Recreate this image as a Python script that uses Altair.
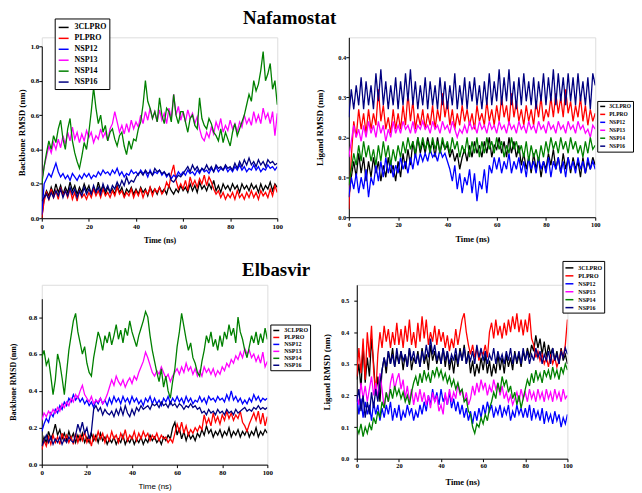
import altair as alt
import pandas as pd

SERIES = ["3CLPRO", "PLPRO", "NSP12", "NSP13", "NSP14", "NSP16"]
COLORS = ["#000000", "#ff0000", "#0000ff", "#ff00ff", "#008000", "#000080"]
TIME = list(range(0, 101))
XTICKS = [0, 20, 40, 60, 80, 100]

# ---------------- Nafamostat : backbone RMSD ----------------
a_3cl = [0.00, 0.12, 0.16, 0.13, 0.18, 0.14, 0.20, 0.15, 0.19, 0.14,
         0.18, 0.15, 0.21, 0.16, 0.19, 0.14, 0.18, 0.15, 0.20, 0.16,
         0.19, 0.14, 0.18, 0.15, 0.21, 0.16, 0.19, 0.14, 0.18, 0.15,
         0.17, 0.14, 0.19, 0.15, 0.18, 0.13, 0.17, 0.15, 0.18, 0.14,
         0.17, 0.14, 0.18, 0.15, 0.17, 0.13, 0.18, 0.15, 0.17, 0.14,
         0.18, 0.15, 0.17, 0.14, 0.19, 0.16, 0.14, 0.17, 0.15, 0.19,
         0.16, 0.18, 0.15, 0.20, 0.16, 0.19, 0.15, 0.21, 0.17, 0.19,
         0.16, 0.20, 0.17, 0.22, 0.16, 0.19, 0.15, 0.20, 0.17, 0.19,
         0.16, 0.20, 0.17, 0.19, 0.15, 0.20, 0.17, 0.19, 0.16, 0.20,
         0.17, 0.19, 0.15, 0.20, 0.16, 0.19, 0.17, 0.21, 0.16, 0.20, 0.18]
a_pl = [0.00, 0.10, 0.15, 0.11, 0.17, 0.12, 0.16, 0.11, 0.18, 0.13,
        0.16, 0.12, 0.17, 0.11, 0.15, 0.10, 0.16, 0.12, 0.14, 0.11,
        0.15, 0.12, 0.17, 0.13, 0.16, 0.12, 0.17, 0.13, 0.15, 0.12,
        0.16, 0.13, 0.18, 0.14, 0.16, 0.12, 0.15, 0.13, 0.17, 0.12,
        0.16, 0.13, 0.17, 0.12, 0.16, 0.14, 0.18, 0.13, 0.17, 0.15,
        0.18, 0.14, 0.16, 0.21, 0.18, 0.26, 0.31, 0.22, 0.17, 0.20,
        0.17, 0.22, 0.16, 0.24, 0.19, 0.22, 0.18, 0.23, 0.20, 0.25,
        0.19, 0.24, 0.21, 0.17, 0.14, 0.16, 0.12, 0.15, 0.11, 0.14,
        0.12, 0.15, 0.11, 0.16, 0.12, 0.14, 0.11, 0.15, 0.12, 0.16,
        0.12, 0.15, 0.11, 0.16, 0.13, 0.15, 0.12, 0.17, 0.13, 0.19, 0.15]
a_n12 = [0.02, 0.20, 0.23, 0.26, 0.24, 0.28, 0.32, 0.27, 0.24, 0.26,
         0.23, 0.25, 0.22, 0.26, 0.24, 0.22, 0.25, 0.23, 0.26, 0.24,
         0.26, 0.23, 0.25, 0.24, 0.27, 0.25, 0.28, 0.26, 0.27, 0.25,
         0.28, 0.26, 0.29, 0.25, 0.27, 0.24, 0.26, 0.25, 0.28, 0.26,
         0.27, 0.25, 0.28, 0.26, 0.27, 0.24, 0.28, 0.25, 0.27, 0.26,
         0.28, 0.25, 0.27, 0.24, 0.26, 0.23, 0.25, 0.24, 0.27, 0.25,
         0.27, 0.25, 0.28, 0.26, 0.27, 0.25, 0.28, 0.26, 0.29, 0.27,
         0.28, 0.26, 0.29, 0.27, 0.30, 0.27, 0.29, 0.28, 0.30, 0.27,
         0.29, 0.27, 0.30, 0.28, 0.31, 0.28, 0.30, 0.27, 0.29, 0.28,
         0.31, 0.28, 0.30, 0.27, 0.29, 0.28, 0.31, 0.29, 0.30, 0.28, 0.30]
a_n13 = [0.22, 0.30, 0.36, 0.42, 0.38, 0.44, 0.40, 0.46, 0.41, 0.48,
         0.43, 0.50, 0.45, 0.53, 0.46, 0.50, 0.44, 0.49, 0.45, 0.51,
         0.47, 0.50, 0.44, 0.48, 0.46, 0.52, 0.47, 0.50, 0.45, 0.52,
         0.55, 0.62, 0.56, 0.50, 0.54, 0.49, 0.55, 0.50, 0.57, 0.52,
         0.56, 0.53, 0.60, 0.55, 0.62, 0.57, 0.64, 0.58, 0.62, 0.56,
         0.63, 0.57, 0.61, 0.55, 0.64, 0.58, 0.72, 0.60, 0.65, 0.57,
         0.62, 0.56, 0.63, 0.58, 0.61, 0.55, 0.59, 0.52, 0.47, 0.45,
         0.50, 0.47, 0.53, 0.49, 0.56, 0.52, 0.58, 0.50, 0.54, 0.51,
         0.57, 0.52, 0.55, 0.50, 0.56, 0.53, 0.60, 0.55, 0.58, 0.54,
         0.62, 0.56, 0.60, 0.55, 0.64, 0.58, 0.61, 0.55, 0.62, 0.48, 0.61]
a_n14 = [0.20, 0.30, 0.38, 0.45, 0.40, 0.48, 0.44, 0.52, 0.57, 0.46,
         0.40, 0.52, 0.58, 0.45, 0.38, 0.33, 0.29, 0.36, 0.44, 0.40,
         0.50, 0.62, 0.76, 0.64, 0.55, 0.60, 0.50, 0.54, 0.45, 0.50,
         0.52, 0.46, 0.42, 0.48, 0.50, 0.42, 0.37, 0.45, 0.40, 0.46,
         0.45, 0.52, 0.56, 0.66, 0.80, 0.68, 0.64, 0.58, 0.62, 0.56,
         0.70, 0.60, 0.55, 0.64, 0.62, 0.56, 0.72, 0.60, 0.55, 0.62,
         0.62, 0.56, 0.50, 0.58, 0.60, 0.54, 0.52, 0.70, 0.58, 0.54,
         0.52, 0.58, 0.55, 0.50, 0.48, 0.45, 0.52, 0.44, 0.50, 0.46,
         0.42, 0.50, 0.55, 0.48, 0.52, 0.56, 0.60, 0.66, 0.72, 0.68,
         0.80, 0.74, 0.78, 0.86, 0.97, 0.80, 0.84, 0.90, 0.75, 0.80, 0.66]
a_n16 = [0.10, 0.12, 0.14, 0.11, 0.15, 0.12, 0.16, 0.13, 0.17, 0.12,
         0.16, 0.13, 0.18, 0.14, 0.17, 0.12, 0.16, 0.13, 0.18, 0.14,
         0.17, 0.14, 0.19, 0.15, 0.18, 0.14, 0.20, 0.16, 0.19, 0.15,
         0.19, 0.17, 0.21, 0.18, 0.22, 0.19, 0.24, 0.20, 0.22, 0.21,
         0.24, 0.26, 0.27, 0.25, 0.28, 0.26, 0.27, 0.25, 0.29, 0.27,
         0.28, 0.26, 0.27, 0.25, 0.26, 0.22, 0.21, 0.23, 0.25, 0.24,
         0.26, 0.28, 0.30, 0.27, 0.31, 0.28, 0.30, 0.27, 0.29, 0.28,
         0.31, 0.28, 0.30, 0.27, 0.31, 0.29, 0.30, 0.28, 0.31, 0.29,
         0.30, 0.28, 0.32, 0.29, 0.33, 0.30, 0.34, 0.31, 0.35, 0.31,
         0.33, 0.30, 0.34, 0.31, 0.33, 0.30, 0.34, 0.32, 0.33, 0.31, 0.32]

# ---------------- Nafamostat : ligand RMSD ----------------
b_3cl = [0.05, 0.10, 0.14, 0.10, 0.16, 0.11, 0.15, 0.09, 0.14, 0.10,
         0.15, 0.11, 0.14, 0.09, 0.13, 0.10, 0.15, 0.11, 0.13, 0.09,
         0.14, 0.10, 0.16, 0.12, 0.17, 0.13, 0.19, 0.15, 0.20, 0.16,
         0.19, 0.16, 0.20, 0.17, 0.19, 0.15, 0.20, 0.16, 0.19, 0.17,
         0.18, 0.15, 0.17, 0.14, 0.16, 0.12, 0.15, 0.17, 0.14, 0.18,
         0.15, 0.19, 0.16, 0.18, 0.15, 0.19, 0.16, 0.20, 0.15, 0.18,
         0.17, 0.20, 0.16, 0.19, 0.15, 0.20, 0.16, 0.19, 0.15, 0.18,
         0.13, 0.16, 0.12, 0.15, 0.11, 0.16, 0.12, 0.15, 0.10, 0.14,
         0.12, 0.16, 0.13, 0.17, 0.12, 0.15, 0.11, 0.16, 0.12, 0.15,
         0.11, 0.15, 0.12, 0.14, 0.10, 0.15, 0.11, 0.14, 0.12, 0.15, 0.13]
b_pl = [0.02, 0.15, 0.24, 0.20, 0.27, 0.22, 0.26, 0.21, 0.27, 0.22,
        0.26, 0.23, 0.32, 0.24, 0.28, 0.22, 0.25, 0.21, 0.27, 0.22,
        0.26, 0.22, 0.28, 0.23, 0.31, 0.24, 0.29, 0.22, 0.26, 0.23,
        0.27, 0.22, 0.26, 0.23, 0.28, 0.22, 0.27, 0.24, 0.31, 0.25,
        0.29, 0.23, 0.27, 0.22, 0.26, 0.23, 0.28, 0.24, 0.27, 0.23,
        0.26, 0.22, 0.28, 0.24, 0.26, 0.23, 0.29, 0.24, 0.27, 0.23,
        0.28, 0.24, 0.30, 0.25, 0.28, 0.23, 0.31, 0.25, 0.29, 0.24,
        0.27, 0.23, 0.28, 0.24, 0.27, 0.23, 0.29, 0.25, 0.30, 0.24,
        0.27, 0.25, 0.30, 0.25, 0.31, 0.26, 0.30, 0.25, 0.32, 0.26,
        0.29, 0.24, 0.28, 0.25, 0.30, 0.24, 0.28, 0.23, 0.27, 0.24, 0.26]
b_n12 = [0.05, 0.10, 0.07, 0.11, 0.06, 0.10, 0.07, 0.12, 0.05, 0.10,
         0.08, 0.13, 0.09, 0.14, 0.10, 0.15, 0.11, 0.14, 0.10, 0.13,
         0.11, 0.15, 0.12, 0.14, 0.11, 0.15, 0.12, 0.16, 0.13, 0.16,
         0.14, 0.16, 0.14, 0.17, 0.15, 0.16, 0.14, 0.17, 0.15, 0.16,
         0.14, 0.12, 0.09, 0.13, 0.07, 0.11, 0.06, 0.10, 0.08, 0.12,
         0.06, 0.11, 0.04, 0.09, 0.07, 0.12, 0.06, 0.13, 0.11, 0.15,
         0.12, 0.15, 0.11, 0.14, 0.12, 0.16, 0.11, 0.14, 0.12, 0.15,
         0.11, 0.14, 0.10, 0.15, 0.12, 0.14, 0.11, 0.15, 0.12, 0.14,
         0.11, 0.15, 0.10, 0.14, 0.12, 0.15, 0.11, 0.14, 0.10, 0.15,
         0.12, 0.14, 0.11, 0.15, 0.12, 0.14, 0.11, 0.15, 0.12, 0.14, 0.12]
b_n13 = [0.15, 0.19, 0.23, 0.20, 0.22, 0.19, 0.23, 0.20, 0.24, 0.21,
         0.23, 0.20, 0.24, 0.21, 0.23, 0.19, 0.22, 0.20, 0.24, 0.21,
         0.23, 0.21, 0.24, 0.22, 0.23, 0.21, 0.24, 0.21, 0.23, 0.22,
         0.24, 0.22, 0.23, 0.21, 0.24, 0.22, 0.23, 0.21, 0.24, 0.22,
         0.23, 0.21, 0.24, 0.22, 0.20, 0.22, 0.21, 0.23, 0.21, 0.24,
         0.22, 0.23, 0.21, 0.24, 0.22, 0.23, 0.21, 0.24, 0.22, 0.23,
         0.21, 0.24, 0.22, 0.23, 0.21, 0.24, 0.22, 0.23, 0.21, 0.24,
         0.22, 0.23, 0.21, 0.24, 0.22, 0.23, 0.21, 0.24, 0.22, 0.23,
         0.21, 0.24, 0.22, 0.23, 0.21, 0.24, 0.22, 0.23, 0.21, 0.24,
         0.22, 0.23, 0.21, 0.24, 0.22, 0.23, 0.21, 0.22, 0.20, 0.23, 0.22]
b_n14 = [0.08, 0.12, 0.16, 0.13, 0.18, 0.14, 0.19, 0.15, 0.18, 0.14,
         0.17, 0.13, 0.18, 0.14, 0.19, 0.15, 0.18, 0.13, 0.17, 0.14,
         0.18, 0.15, 0.19, 0.16, 0.20, 0.17, 0.19, 0.16, 0.20, 0.17,
         0.20, 0.17, 0.19, 0.16, 0.20, 0.17, 0.19, 0.16, 0.20, 0.17,
         0.19, 0.16, 0.20, 0.17, 0.19, 0.15, 0.18, 0.16, 0.20, 0.15,
         0.19, 0.16, 0.20, 0.15, 0.19, 0.16, 0.20, 0.17, 0.19, 0.16,
         0.20, 0.17, 0.19, 0.15, 0.18, 0.16, 0.20, 0.17, 0.19, 0.16,
         0.18, 0.15, 0.19, 0.14, 0.18, 0.15, 0.17, 0.14, 0.18, 0.15,
         0.19, 0.16, 0.20, 0.17, 0.19, 0.16, 0.20, 0.17, 0.19, 0.16,
         0.20, 0.17, 0.19, 0.16, 0.18, 0.15, 0.19, 0.16, 0.20, 0.17, 0.18]
b_n16 = [0.25, 0.32, 0.27, 0.33, 0.28, 0.35, 0.27, 0.34, 0.28, 0.33,
         0.27, 0.36, 0.29, 0.37, 0.28, 0.34, 0.27, 0.33, 0.28, 0.35,
         0.27, 0.34, 0.28, 0.36, 0.29, 0.37, 0.28, 0.34, 0.27, 0.33,
         0.28, 0.35, 0.27, 0.34, 0.28, 0.33, 0.27, 0.35, 0.28, 0.34,
         0.27, 0.33, 0.28, 0.36, 0.27, 0.33, 0.28, 0.35, 0.27, 0.34,
         0.29, 0.35, 0.28, 0.33, 0.27, 0.34, 0.28, 0.36, 0.28, 0.34,
         0.29, 0.37, 0.28, 0.35, 0.29, 0.37, 0.28, 0.34, 0.27, 0.35,
         0.28, 0.36, 0.29, 0.34, 0.28, 0.35, 0.27, 0.34, 0.29, 0.36,
         0.28, 0.35, 0.29, 0.37, 0.28, 0.36, 0.29, 0.35, 0.28, 0.36,
         0.29, 0.35, 0.28, 0.36, 0.29, 0.34, 0.28, 0.35, 0.27, 0.36, 0.33]

# ---------------- Elbasvir : backbone RMSD ----------------
c_3cl = [0.10, 0.15, 0.12, 0.18, 0.14, 0.17, 0.22, 0.16, 0.19, 0.14,
         0.17, 0.13, 0.18, 0.14, 0.17, 0.12, 0.16, 0.13, 0.17, 0.12,
         0.15, 0.12, 0.17, 0.13, 0.16, 0.12, 0.17, 0.13, 0.15, 0.11,
         0.14, 0.12, 0.15, 0.11, 0.14, 0.12, 0.16, 0.11, 0.14, 0.12,
         0.15, 0.11, 0.14, 0.12, 0.15, 0.11, 0.14, 0.12, 0.16, 0.13,
         0.15, 0.12, 0.14, 0.11, 0.15, 0.13, 0.16, 0.14, 0.20, 0.23,
         0.16, 0.20, 0.14, 0.18, 0.13, 0.17, 0.14, 0.16, 0.13, 0.17,
         0.15, 0.19, 0.16, 0.21, 0.17, 0.19, 0.15, 0.18, 0.16, 0.19,
         0.15, 0.18, 0.16, 0.20, 0.15, 0.18, 0.16, 0.19, 0.15, 0.18,
         0.16, 0.19, 0.15, 0.18, 0.16, 0.20, 0.15, 0.18, 0.16, 0.19, 0.17]
c_pl = [0.08, 0.13, 0.10, 0.15, 0.11, 0.16, 0.12, 0.15, 0.11, 0.17,
        0.13, 0.16, 0.12, 0.15, 0.11, 0.17, 0.12, 0.16, 0.13, 0.18,
        0.12, 0.15, 0.10, 0.16, 0.13, 0.18, 0.14, 0.17, 0.12, 0.16,
        0.13, 0.18, 0.14, 0.16, 0.12, 0.17, 0.14, 0.19, 0.13, 0.16,
        0.14, 0.18, 0.13, 0.17, 0.14, 0.18, 0.15, 0.17, 0.13, 0.16,
        0.14, 0.17, 0.13, 0.16, 0.14, 0.15, 0.12, 0.14, 0.12, 0.17,
        0.22, 0.18, 0.23, 0.17, 0.21, 0.16, 0.19, 0.17, 0.20, 0.18,
        0.21, 0.19, 0.27, 0.22, 0.25, 0.21, 0.28, 0.23, 0.26, 0.22,
        0.27, 0.24, 0.29, 0.25, 0.28, 0.24, 0.27, 0.25, 0.29, 0.23,
        0.21, 0.18, 0.22, 0.25, 0.28, 0.24, 0.29, 0.22, 0.28, 0.21, 0.26]
c_n12 = [0.18, 0.22, 0.25, 0.23, 0.28, 0.26, 0.30, 0.28, 0.32, 0.30,
         0.34, 0.32, 0.36, 0.34, 0.38, 0.35, 0.37, 0.34, 0.36, 0.33,
         0.35, 0.32, 0.34, 0.31, 0.35, 0.33, 0.36, 0.33, 0.35, 0.32,
         0.36, 0.33, 0.37, 0.34, 0.36, 0.33, 0.37, 0.34, 0.36, 0.33,
         0.37, 0.34, 0.36, 0.33, 0.35, 0.32, 0.36, 0.34, 0.37, 0.33,
         0.36, 0.33, 0.35, 0.32, 0.36, 0.34, 0.37, 0.33, 0.36, 0.34,
         0.37, 0.34, 0.36, 0.33, 0.37, 0.34, 0.36, 0.33, 0.35, 0.34,
         0.37, 0.34, 0.36, 0.33, 0.37, 0.35, 0.36, 0.34, 0.37, 0.35,
         0.36, 0.34, 0.38, 0.35, 0.40, 0.35, 0.37, 0.34, 0.36, 0.33,
         0.35, 0.33, 0.36, 0.34, 0.38, 0.35, 0.37, 0.34, 0.36, 0.35, 0.36]
c_n13 = [0.24, 0.28, 0.26, 0.29, 0.27, 0.30, 0.28, 0.31, 0.29, 0.33,
         0.31, 0.34, 0.32, 0.36, 0.34, 0.38, 0.36, 0.40, 0.43, 0.38,
         0.36, 0.34, 0.37, 0.33, 0.35, 0.34, 0.36, 0.33, 0.35, 0.38,
         0.42, 0.46, 0.43, 0.48, 0.45, 0.43, 0.46, 0.42, 0.45, 0.47,
         0.44, 0.48, 0.46, 0.50, 0.53, 0.56, 0.61, 0.58, 0.54, 0.50,
         0.48, 0.51, 0.49, 0.53, 0.50, 0.47, 0.49, 0.45, 0.48, 0.50,
         0.52, 0.49, 0.53, 0.50, 0.55, 0.51, 0.53, 0.49, 0.52, 0.48,
         0.51, 0.48, 0.53, 0.50, 0.52, 0.49, 0.52, 0.48, 0.51, 0.49,
         0.53, 0.51, 0.55, 0.53, 0.57, 0.55, 0.59, 0.57, 0.61, 0.58,
         0.63, 0.60, 0.62, 0.58, 0.60, 0.56, 0.59, 0.55, 0.61, 0.53, 0.56]
c_n14 = [0.58, 0.62, 0.54, 0.57, 0.48, 0.38, 0.46, 0.60, 0.55, 0.47,
         0.38, 0.50, 0.62, 0.70, 0.78, 0.82, 0.72, 0.66, 0.60, 0.64,
         0.55, 0.50, 0.48, 0.58, 0.65, 0.72, 0.68, 0.62, 0.70, 0.66,
         0.72, 0.65, 0.70, 0.76, 0.68, 0.73, 0.66, 0.74, 0.70, 0.78,
         0.72, 0.68, 0.64, 0.70, 0.74, 0.78, 0.83, 0.80, 0.70, 0.62,
         0.56, 0.50, 0.45, 0.52, 0.42, 0.48, 0.40, 0.36, 0.45, 0.52,
         0.64, 0.72, 0.82, 0.75, 0.68, 0.62, 0.66, 0.58, 0.55, 0.50,
         0.48, 0.56, 0.62, 0.70, 0.66, 0.72, 0.64, 0.68, 0.62, 0.70,
         0.64, 0.72, 0.68, 0.76, 0.70, 0.74, 0.66, 0.80, 0.72, 0.68,
         0.62, 0.58, 0.64, 0.70, 0.66, 0.72, 0.65, 0.71, 0.66, 0.74, 0.68]
c_n16 = [0.10, 0.13, 0.16, 0.12, 0.15, 0.11, 0.14, 0.12, 0.15, 0.11,
         0.14, 0.12, 0.15, 0.13, 0.12, 0.16, 0.22, 0.18, 0.23, 0.17,
         0.20, 0.14, 0.18, 0.30, 0.32, 0.29, 0.31, 0.27, 0.30, 0.28,
         0.27, 0.29, 0.26, 0.30, 0.27, 0.31, 0.27, 0.32, 0.28, 0.26,
         0.30, 0.27, 0.31, 0.29, 0.32, 0.30, 0.31, 0.32, 0.30, 0.33,
         0.32, 0.33, 0.31, 0.34, 0.32, 0.33, 0.31, 0.34, 0.32, 0.33,
         0.31, 0.33, 0.32, 0.30, 0.32, 0.31, 0.33, 0.31, 0.32, 0.30,
         0.31, 0.28, 0.29, 0.27, 0.30, 0.28, 0.29, 0.27, 0.30, 0.28,
         0.29, 0.27, 0.30, 0.28, 0.29, 0.27, 0.30, 0.28, 0.29, 0.30,
         0.31, 0.29, 0.30, 0.29, 0.31, 0.30, 0.32, 0.30, 0.31, 0.30, 0.31]

# ---------------- Elbasvir : ligand RMSD ----------------
d_3cl = [0.25, 0.30, 0.22, 0.36, 0.24, 0.32, 0.26, 0.38, 0.30, 0.20,
         0.26, 0.18, 0.28, 0.32, 0.27, 0.34, 0.30, 0.35, 0.29, 0.33,
         0.30, 0.34, 0.28, 0.33, 0.29, 0.35, 0.28, 0.32, 0.30, 0.34,
         0.29, 0.35, 0.30, 0.33, 0.28, 0.36, 0.31, 0.34, 0.30, 0.33,
         0.30, 0.35, 0.29, 0.34, 0.28, 0.32, 0.27, 0.33, 0.29, 0.35,
         0.31, 0.36, 0.30, 0.34, 0.27, 0.31, 0.26, 0.30, 0.27, 0.32,
         0.28, 0.33, 0.27, 0.31, 0.26, 0.30, 0.27, 0.33, 0.28, 0.32,
         0.27, 0.33, 0.29, 0.32, 0.28, 0.34, 0.30, 0.33, 0.29, 0.34,
         0.31, 0.35, 0.32, 0.36, 0.34, 0.39, 0.35, 0.38, 0.33, 0.37,
         0.32, 0.36, 0.33, 0.35, 0.31, 0.34, 0.30, 0.35, 0.31, 0.33, 0.30]
d_pl = [0.26, 0.35, 0.27, 0.38, 0.25, 0.40, 0.32, 0.42, 0.28, 0.20,
        0.33, 0.40, 0.35, 0.42, 0.37, 0.41, 0.35, 0.40, 0.36, 0.43,
        0.36, 0.41, 0.35, 0.42, 0.37, 0.44, 0.36, 0.40, 0.35, 0.43,
        0.37, 0.45, 0.38, 0.44, 0.36, 0.40, 0.37, 0.42, 0.36, 0.41,
        0.37, 0.40, 0.35, 0.39, 0.34, 0.38, 0.35, 0.41, 0.36, 0.40,
        0.44, 0.46, 0.40, 0.36, 0.33, 0.36, 0.32, 0.35, 0.31, 0.34,
        0.33, 0.36, 0.32, 0.40, 0.43, 0.38, 0.44, 0.39, 0.42, 0.38,
        0.43, 0.39, 0.44, 0.40, 0.45, 0.41, 0.46, 0.40, 0.44, 0.39,
        0.44, 0.40, 0.46, 0.38, 0.36, 0.32, 0.34, 0.31, 0.33, 0.30,
        0.32, 0.29, 0.33, 0.30, 0.32, 0.29, 0.31, 0.34, 0.32, 0.36, 0.44]
d_n12 = [0.20, 0.14, 0.19, 0.13, 0.18, 0.14, 0.17, 0.12, 0.18, 0.14,
         0.17, 0.12, 0.16, 0.13, 0.17, 0.14, 0.18, 0.12, 0.16, 0.13,
         0.17, 0.12, 0.15, 0.13, 0.17, 0.14, 0.16, 0.12, 0.15, 0.13,
         0.17, 0.14, 0.18, 0.15, 0.20, 0.17, 0.22, 0.18, 0.21, 0.17,
         0.22, 0.18, 0.20, 0.17, 0.21, 0.16, 0.19, 0.15, 0.18, 0.14,
         0.17, 0.13, 0.16, 0.12, 0.15, 0.11, 0.15, 0.12, 0.16, 0.13,
         0.17, 0.14, 0.18, 0.15, 0.17, 0.13, 0.16, 0.14, 0.17, 0.13,
         0.16, 0.14, 0.17, 0.12, 0.15, 0.13, 0.17, 0.14, 0.16, 0.13,
         0.16, 0.13, 0.17, 0.12, 0.16, 0.13, 0.15, 0.12, 0.16, 0.11,
         0.15, 0.12, 0.14, 0.11, 0.15, 0.12, 0.14, 0.10, 0.13, 0.11, 0.14]
d_n13 = [0.20, 0.17, 0.24, 0.19, 0.23, 0.18, 0.22, 0.26, 0.20, 0.24,
         0.19, 0.27, 0.22, 0.16, 0.21, 0.18, 0.24, 0.27, 0.22, 0.25,
         0.27, 0.22, 0.25, 0.19, 0.23, 0.18, 0.22, 0.17, 0.21, 0.18,
         0.22, 0.18, 0.21, 0.17, 0.20, 0.16, 0.21, 0.18, 0.20, 0.15,
         0.17, 0.14, 0.21, 0.17, 0.22, 0.18, 0.21, 0.19, 0.24, 0.20,
         0.22, 0.18, 0.21, 0.17, 0.19, 0.23, 0.20, 0.24, 0.21, 0.25,
         0.22, 0.24, 0.20, 0.23, 0.21, 0.25, 0.22, 0.24, 0.20, 0.23,
         0.19, 0.21, 0.18, 0.20, 0.17, 0.19, 0.21, 0.18, 0.22, 0.19,
         0.21, 0.18, 0.22, 0.19, 0.21, 0.18, 0.22, 0.19, 0.21, 0.18,
         0.22, 0.19, 0.21, 0.18, 0.22, 0.19, 0.21, 0.18, 0.22, 0.19, 0.20]
d_n14 = [0.10, 0.08, 0.11, 0.07, 0.10, 0.08, 0.11, 0.09, 0.13, 0.11,
         0.15, 0.13, 0.18, 0.16, 0.21, 0.18, 0.22, 0.19, 0.23, 0.20,
         0.22, 0.19, 0.21, 0.18, 0.20, 0.17, 0.21, 0.24, 0.26, 0.23,
         0.27, 0.24, 0.28, 0.25, 0.27, 0.24, 0.28, 0.26, 0.29, 0.26,
         0.28, 0.25, 0.27, 0.24, 0.26, 0.23, 0.25, 0.22, 0.24, 0.21,
         0.22, 0.18, 0.19, 0.15, 0.14, 0.10, 0.08, 0.11, 0.10, 0.13,
         0.11, 0.14, 0.12, 0.16, 0.18, 0.21, 0.19, 0.24, 0.21, 0.26,
         0.23, 0.25, 0.21, 0.23, 0.19, 0.21, 0.17, 0.20, 0.16, 0.19,
         0.22, 0.25, 0.23, 0.27, 0.24, 0.28, 0.25, 0.27, 0.24, 0.28,
         0.26, 0.28, 0.25, 0.29, 0.26, 0.28, 0.25, 0.29, 0.27, 0.30, 0.28]
d_n16 = [0.18, 0.22, 0.15, 0.20, 0.13, 0.18, 0.14, 0.21, 0.16, 0.22,
         0.18, 0.24, 0.28, 0.32, 0.29, 0.34, 0.30, 0.33, 0.29, 0.35,
         0.30, 0.34, 0.31, 0.33, 0.29, 0.35, 0.31, 0.34, 0.30, 0.33,
         0.29, 0.34, 0.31, 0.36, 0.32, 0.38, 0.33, 0.36, 0.31, 0.34,
         0.30, 0.35, 0.31, 0.34, 0.30, 0.33, 0.31, 0.35, 0.30, 0.34,
         0.31, 0.35, 0.30, 0.33, 0.31, 0.34, 0.30, 0.36, 0.32, 0.35,
         0.31, 0.34, 0.30, 0.33, 0.31, 0.35, 0.30, 0.34, 0.31, 0.33,
         0.30, 0.34, 0.31, 0.35, 0.30, 0.33, 0.31, 0.34, 0.30, 0.35,
         0.31, 0.34, 0.30, 0.33, 0.31, 0.35, 0.32, 0.34, 0.30, 0.33,
         0.31, 0.34, 0.30, 0.35, 0.31, 0.33, 0.30, 0.34, 0.32, 0.35, 0.33]

SERIF = "Liberation Serif"
SANS = "Liberation Sans"


def frame(columns):
    rows = []
    for name, vals in zip(SERIES, columns):
        for t, v in zip(TIME, vals):
            rows.append({"t": t, "rmsd": v, "series": name})
    return pd.DataFrame(rows)


def panel(df, width, height, ydomain, yticks, yfmt, ytitle, yrange=None,
          lab_size=7, ytitle_size=9, y_label_pad=0, y_title_pad=8,
          xtitle_size=8, xtitle_font=SERIF, xtitle_weight="bold", x_title_pad=6,
          legend=None):
    common = dict(labelFont=SERIF, labelFontWeight="bold", labelFontSize=lab_size,
                  labelColor="black", titleColor="black", domainColor="black",
                  tickColor="black", tickSize=3, grid=False, domainWidth=1)
    xaxis = alt.Axis(values=XTICKS, format="d", title="Time (ns)", titleFont=xtitle_font,
                     titleFontWeight=xtitle_weight, titleFontSize=xtitle_size,
                     labelPadding=1, titlePadding=x_title_pad, labelFlush=False, **common)
    yaxis = alt.Axis(values=yticks, format=yfmt, title=ytitle, titleFont=SERIF,
                     titleFontWeight="bold", titleFontSize=ytitle_size,
                     labelPadding=y_label_pad, titlePadding=y_title_pad, **common)
    if yrange is not None:
        yscale = alt.Scale(domain=ydomain, nice=False, range=yrange)
    else:
        yscale = alt.Scale(domain=ydomain, nice=False)
    return alt.Chart(df).mark_line(strokeWidth=1.3, clip=True).encode(
        x=alt.X("t:Q", scale=alt.Scale(domain=[0, 100], nice=False), axis=xaxis),
        y=alt.Y("rmsd:Q", scale=yscale, axis=yaxis),
        color=alt.Color("series:N", scale=alt.Scale(domain=SERIES, range=COLORS),
                        legend=legend),
    ).properties(width=width, height=height)


def legend(x, y, size, font_size, pad, row_pad, offset):
    return alt.Legend(title=None, orient="none", legendX=x, legendY=y,
                      fillColor="white", strokeColor="black",
                      padding=pad, symbolType="stroke", symbolSize=size,
                      symbolStrokeWidth=1.5, labelFont=SERIF, labelFontWeight="bold",
                      labelFontSize=font_size, labelColor="black", rowPadding=row_pad,
                      labelOffset=offset, cornerRadius=0)


tl = panel(frame([a_3cl, a_pl, a_n12, a_n13, a_n14, a_n16]), 237, 182,
           [0, 1.0], [0, 0.2, 0.4, 0.6, 0.8, 1.0], ".1f", "Backbone RMSD (nm)",
           yrange=[182, 9], lab_size=7, ytitle_size=9, y_label_pad=0, y_title_pad=4,
           xtitle_size=8, x_title_pad=7,
           legend=legend(13, -19, 100, 8, 3, 1, 5))

tr = panel(frame([b_3cl, b_pl, b_n12, b_n13, b_n14, b_n16]), 248, 181,
           [0, 0.45], [0, 0.1, 0.2, 0.3, 0.4], ".1f", "Ligand RMSD (nm)",
           lab_size=6.5, ytitle_size=9, y_label_pad=0, y_title_pad=13,
           xtitle_size=8.5, x_title_pad=7,
           legend=legend(250, 64, 25, 5.5, 2, 1, 3))

bl = panel(frame([c_3cl, c_pl, c_n12, c_n13, c_n14, c_n16]), 227, 181,
           [0, 0.9], [0, 0.2, 0.4, 0.6, 0.8], ".1f", "Backbone RMSD (nm)",
           yrange=[181, 14], lab_size=7, ytitle_size=8, y_label_pad=2, y_title_pad=11,
           xtitle_size=8, xtitle_font=SANS, xtitle_weight="normal", x_title_pad=7,
           legend=legend(230, 40, 36, 6, 2, 0, 4))

br = panel(frame([d_3cl, d_pl, d_n12, d_n13, d_n14, d_n16]), 212, 175,
           [0, 0.55], [0, 0.1, 0.2, 0.3, 0.4, 0.5], ".1f", "Ligand RMSD (nm)",
           lab_size=6.5, ytitle_size=9, y_label_pad=5, y_title_pad=9,
           xtitle_size=8.5, x_title_pad=8,
           legend=legend(207, -24, 64, 6, 2, 0, 4))

row1 = alt.hconcat(tl, tr, spacing=32).resolve_scale(color="independent").properties(
    title=alt.Title("Nafamostat", font=SERIF, fontWeight="bold", fontSize=19,
                    color="black", anchor="middle", offset=-11, dx=-36))
row2 = alt.hconcat(bl, br, spacing=11).resolve_scale(color="independent").properties(
    title=alt.Title("Elbasvir", font=SERIF, fontWeight="bold", fontSize=19,
                    color="black", anchor="middle", offset=-20, dx=-31))

chart = alt.vconcat(row1, row2, spacing=15).resolve_scale(color="independent").properties(
    padding={"left": 0, "top": 0, "right": 0, "bottom": 0}
).configure_view(stroke=None).configure(background="white")

chart.save("out.html", embed_options={"renderer": "svg", "actions": False})
